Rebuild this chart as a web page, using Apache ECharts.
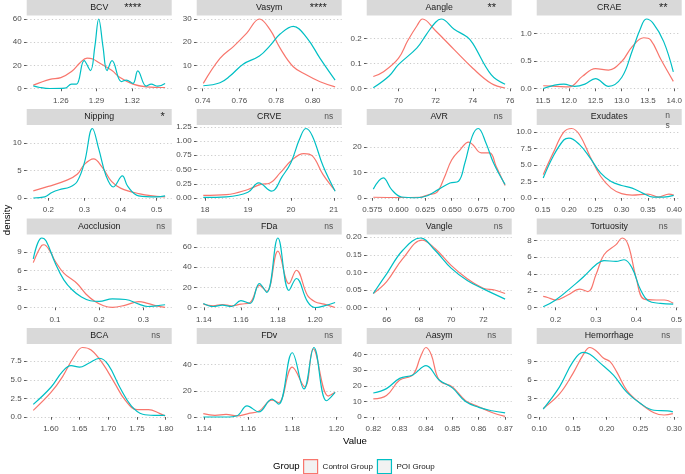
<!DOCTYPE html>
<html>
<head>
<meta charset="utf-8">
<script src="https://cdn.jsdelivr.net/npm/echarts@6/dist/echarts.min.js"></script>
<style>
html, body { margin: 0; padding: 0; background: #fff; }
#main { width: 685px; height: 474px; }
</style>
</head>
<body>
<div id="main"></div>
<script>
// density curves, [value, density]
const bcvControl = [[1.2368,2.9],[1.2508,7.9],[1.26,9.4],[1.269,14.6],[1.276,22],[1.2821,26.3],[1.2869,25.5],[1.2919,22.5],[1.3031,15.5],[1.3095,9.7],[1.3207,3.8],[1.3319,1.5],[1.3478,0.9]]
const bcvPOI = [[1.2368,2.3],[1.2424,0.9],[1.2508,0],[1.2634,0.3],[1.269,3.8],[1.2732,3.8],[1.2796,24],[1.2849,15.5],[1.2886,36],[1.2919,60],[1.2955,36],[1.2989,15.5],[1.3031,24],[1.3109,5.9],[1.3151,7.3],[1.3207,4.4],[1.3248,15.2],[1.3319,2],[1.3361,3.8],[1.3416,2],[1.3478,4.4]]
const vasymControl = [[0.7403,2.2],[0.7494,13],[0.7567,18.1],[0.764,23.9],[0.7709,30],[0.7767,25.4],[0.7822,17.4],[0.7894,9.4],[0.7967,5.8],[0.804,2.9],[0.8122,0.7]]
const vasymPOI = [[0.7403,1.2],[0.7494,2.5],[0.755,5.5],[0.762,10.5],[0.7709,14],[0.7767,18.5],[0.7822,23.5],[0.7894,26.8],[0.7967,22],[0.804,13],[0.8122,3.6]]
const aangleControl = [[68.65,0.048],[69.2,0.067],[70,0.12],[70.5,0.19],[71,0.25],[71.3,0.277],[72,0.23],[73,0.155],[74,0.081],[75,0.02],[75.74,0.002]]
const aanglePOI = [[68.65,0.003],[69.5,0.05],[70,0.095],[71,0.162],[71.5,0.215],[72,0.264],[72.3,0.277],[73,0.236],[73.7,0.205],[74,0.18],[75,0.054],[75.74,0.017]]
const craeControl = [[11.506,0.05],[11.75,0.04],[12.0,0.03],[12.25,0.22],[12.5,0.36],[12.75,0.335],[13.0,0.49],[13.2,0.76],[13.42,0.92],[13.55,0.88],[13.75,0.52],[13.983,0.13]]
const craePOI = [[11.506,0.0],[11.9,0.08],[12.1,0.04],[12.3,0.08],[12.5,0.18],[12.75,0.04],[13.0,0.2],[13.2,0.68],[13.35,1.07],[13.47,1.26],[13.6,1.18],[13.8,0.85],[13.983,0.3]]
const nippingControl = [[0.1584,1.3],[0.2,2.1],[0.25,3.2],[0.28,4.3],[0.3,6.1],[0.325,7.1],[0.35,5.5],[0.375,3.0],[0.4,1.8],[0.45,0.8],[0.5,0.3],[0.5234,0.2]]
const nippingPOI = [[0.1584,0],[0.19,0.2],[0.21,1.0],[0.23,1.5],[0.26,2.0],[0.28,3.0],[0.3,6.4],[0.322,12.6],[0.34,8.8],[0.36,4.0],[0.38,2.0],[0.405,4.0],[0.42,2.1],[0.45,0.4],[0.5,0.2],[0.5234,0.4]]
const crveControl = [[17.96,0.047],[18.5,0.06],[19.0,0.15],[19.3,0.24],[19.5,0.26],[19.75,0.44],[20.0,0.65],[20.3,0.78],[20.5,0.74],[20.75,0.41],[21.03,0.13]]
const crvePOI = [[17.96,0.01],[18.5,0.02],[19.0,0.1],[19.25,0.265],[19.55,0.12],[19.8,0.38],[20.0,0.62],[20.2,1.03],[20.35,1.22],[20.5,1.09],[20.75,0.56],[21.03,0.12]]
const avrControl = [[0.576,0.3],[0.6,0.2],[0.62,0.3],[0.628,1.3],[0.636,2.2],[0.643,8],[0.65,15],[0.658,19],[0.666,22],[0.67,21],[0.678,17.8],[0.686,17.8],[0.692,12.5],[0.7005,4.9]]
const avrPOI = [[0.576,3.5],[0.5854,7.9],[0.5933,3.3],[0.6027,0.4],[0.6169,0.1],[0.627,0.9],[0.6373,3.3],[0.6484,5.9],[0.6565,6.6],[0.6625,13.8],[0.6694,24.3],[0.6751,27.4],[0.6824,21.7],[0.6896,13.8],[0.7005,5.3]]
const exudatesControl = [[0.151,3.55],[0.17,6.85],[0.19,10.0],[0.205,10.55],[0.22,9.6],[0.24,6.3],[0.26,3.3],[0.28,1.5],[0.30,0.66],[0.32,0.45],[0.35,0.6],[0.37,0.15],[0.39,0.6],[0.399,0.45]]
const exudatesPOI = [[0.151,3.05],[0.17,6.35],[0.19,8.8],[0.20,9.1],[0.22,8.1],[0.24,6.1],[0.26,3.8],[0.28,2.5],[0.30,1.9],[0.32,1.5],[0.34,0.75],[0.36,0.15],[0.38,0.15],[0.399,0.4]]
const aocclusionControl = [[0.0509,7.3],[0.07,10.1],[0.075,10.2],[0.09,9.0],[0.1,7.6],[0.12,5.6],[0.15,3.9],[0.17,2.2],[0.19,1.0],[0.21,0.28],[0.23,0.02],[0.26,0.4],[0.29,0.95],[0.31,0.67],[0.33,0.28],[0.3494,0.02]]
const aocclusionPOI = [[0.0509,7.9],[0.07,11.3],[0.08,10.8],[0.1,7.3],[0.12,4.5],[0.14,2.8],[0.16,1.7],[0.18,1.1],[0.2,1.0],[0.23,1.4],[0.26,1.3],[0.29,0.56],[0.31,0.17],[0.33,0.28],[0.3494,0.45]]
const fdaControl = [[1.1397,3.4],[1.145,1.7],[1.15,3],[1.155,1.7],[1.16,3.4],[1.165,5],[1.17,22],[1.174,16],[1.18,56],[1.186,23.7],[1.19,37],[1.196,11.9],[1.20,5.8],[1.205,3.4],[1.2109,0]]
const fdaPOI = [[1.1397,4],[1.145,1],[1.15,2.4],[1.155,1],[1.16,6.8],[1.165,4],[1.17,23.7],[1.174,15],[1.18,69],[1.186,17],[1.19,28.8],[1.196,5.8],[1.20,0],[1.205,1.7],[1.2109,5]]
const vangleControl = [[65.17,0.04],[66,0.074],[67,0.139],[68.2,0.192],[69,0.168],[70,0.12],[71,0.082],[72,0.055],[72.7,0.05],[73.35,0.04]]
const vanglePOI = [[65.17,0.04],[66,0.096],[67,0.163],[68.1,0.198],[69,0.163],[70,0.112],[71,0.077],[72,0.053],[73.35,0.024]]
const tortuosityControl = [[0.169,1.34],[0.18,1.2],[0.2,0.9],[0.23,1.5],[0.26,2.2],[0.28,1.9],[0.3,3.9],[0.32,6.3],[0.35,7.5],[0.365,8.3],[0.38,7.5],[0.4,3.5],[0.42,1.0],[0.45,0.9],[0.47,0.9],[0.492,0.5]]
const tortuosityPOI = [[0.169,0.1],[0.2,0.9],[0.25,2.85],[0.27,3.7],[0.3,5.1],[0.32,5.6],[0.35,5.5],[0.37,5.7],[0.39,4.7],[0.41,2.2],[0.43,0.8],[0.46,0.5],[0.492,0.4]]
const bcaControl = [[1.5692,0.9],[1.6,3.3],[1.62,5.4],[1.64,8.1],[1.655,9.35],[1.67,9.0],[1.69,7.2],[1.71,4.7],[1.73,2.2],[1.75,1.0],[1.77,1.0],[1.79,0.46],[1.799,0.14]]
const bcaPOI = [[1.5692,1.7],[1.6,4.0],[1.62,6.1],[1.635,6.9],[1.65,6.7],[1.665,7.2],[1.685,7.9],[1.70,7.0],[1.72,4.0],[1.74,1.5],[1.76,0.37],[1.78,0.23],[1.799,0.23]]
const fdvControl = [[1.1397,2.6],[1.145,1.3],[1.15,2],[1.155,0.8],[1.16,2.6],[1.165,4.6],[1.1708,12.9],[1.1738,11],[1.18,38],[1.1857,23],[1.1895,52],[1.1963,16],[1.1994,18.8]]
const fdvPOI = [[1.1397,0],[1.15,0],[1.155,1],[1.1595,8.5],[1.1648,3.9],[1.1708,13.7],[1.1738,9.8],[1.18,49],[1.1853,21.4],[1.1898,53],[1.1955,12.4],[1.1994,18.8]]
const aasymControl = [[0.82,11.6],[0.825,13.8],[0.83,23.7],[0.835,27],[0.838,39],[0.84,44.6],[0.842,40],[0.845,23.7],[0.85,19.3],[0.855,10.5],[0.86,6.6],[0.865,2.9],[0.87,0.4]]
const aasymPOI = [[0.82,15.4],[0.825,18.2],[0.83,24.8],[0.835,27],[0.84,33],[0.845,23.7],[0.85,18.7],[0.855,9.9],[0.86,6.2],[0.865,4],[0.87,2.6]]
const hemorrhageControl = [[0.1058,1.4],[0.13,3.75],[0.15,7.1],[0.165,10.1],[0.175,11.3],[0.185,10.7],[0.195,9.6],[0.205,9.0],[0.215,7.3],[0.23,4.3],[0.25,2.2],[0.27,0.7],[0.285,0.33],[0.298,0.55]]
const hemorrhagePOI = [[0.1058,1.3],[0.13,4.9],[0.15,9.0],[0.165,10.5],[0.175,10.2],[0.19,8.8],[0.21,6.8],[0.23,4.0],[0.25,2.2],[0.27,1.1],[0.29,1.0],[0.298,0.83]]

// tick labels
const bcvX = ['1.26','1.29','1.32'], bcvY = ['0','20','40','60']
const vasymX = ['0.74','0.76','0.78','0.80'], vasymY = ['0','10','20','30']
const aangleX = ['70','72','74','76'], aangleY = ['0.0','0.1','0.2']
const craeX = ['11.5','12.0','12.5','13.0','13.5','14.0'], craeY = ['0.0','0.5','1.0']
const nippingX = ['0.2','0.3','0.4','0.5'], nippingY = ['0','5','10']
const crveX = ['18','19','20','21'], crveY = ['0.00','0.25','0.50','0.75','1.00','1.25']
const avrX = ['0.575','0.600','0.625','0.650','0.675','0.700'], avrY = ['0','10','20']
const exudatesX = ['0.15','0.20','0.25','0.30','0.35','0.40'], exudatesY = ['0.0','2.5','5.0','7.5','10.0']
const aocclusionX = ['0.1','0.2','0.3'], aocclusionY = ['0','3','6','9']
const fdaX = ['1.14','1.16','1.18','1.20'], fdaY = ['0','20','40','60']
const vangleX = ['66','68','70','72'], vangleY = ['0.00','0.05','0.10','0.15','0.20']
const tortuosityX = ['0.2','0.3','0.4','0.5'], tortuosityY = ['0','2','4','6','8']
const bcaX = ['1.60','1.65','1.70','1.75','1.80'], bcaY = ['0.0','2.5','5.0','7.5']
const fdvX = ['1.14','1.16','1.18','1.20'], fdvY = ['0','20','40']
const aasymX = ['0.82','0.83','0.84','0.85','0.86','0.87'], aasymY = ['0','10','20','30','40']
const hemorrhageX = ['0.10','0.15','0.20','0.25','0.30'], hemorrhageY = ['0','3','6','9']

const panelNames = ['BCV','Vasym','Aangle','CRAE','Nipping','CRVE','AVR','Exudates','Aocclusion','FDa','Vangle','Tortuosity','BCA','FDv','Aasym','Hemorrhage']
const sigLabels = ['****','****','**','**','*','ns','ns','n\ns','ns','ns','ns','ns','ns','ns','ns','ns']

const panels = [
  [bcvControl, bcvPOI, bcvX, bcvY],
  [vasymControl, vasymPOI, vasymX, vasymY],
  [aangleControl, aanglePOI, aangleX, aangleY],
  [craeControl, craePOI, craeX, craeY],
  [nippingControl, nippingPOI, nippingX, nippingY],
  [crveControl, crvePOI, crveX, crveY],
  [avrControl, avrPOI, avrX, avrY],
  [exudatesControl, exudatesPOI, exudatesX, exudatesY],
  [aocclusionControl, aocclusionPOI, aocclusionX, aocclusionY],
  [fdaControl, fdaPOI, fdaX, fdaY],
  [vangleControl, vanglePOI, vangleX, vangleY],
  [tortuosityControl, tortuosityPOI, tortuosityX, tortuosityY],
  [bcaControl, bcaPOI, bcaX, bcaY],
  [fdvControl, fdvPOI, fdvX, fdvY],
  [aasymControl, aasymPOI, aasymX, aasymY],
  [hemorrhageControl, hemorrhagePOI, hemorrhageX, hemorrhageY]
]

const RED = '#F8766D'
const TEAL = '#00BFC4'
const FONT = '"Liberation Sans", Arial, sans-serif'

// layout
const colLeft = [26.7, 196.7, 366.7, 536.7]
const rowTop = [15.5, 125, 234.5, 344]
const panelW = 145
const panelH = 76.5
const stripH = 16
const sigOffset = [106, 121.5, 125, 126.5, 136, 132, 131.5, 131, 134, 132, 131.5, 126.5, 129, 132, 125, 129]

function labelFor(ticks) {
  return function (v) {
    const t = ticks.find(s => Math.abs(Number(s) - v) < 1e-9)
    return t === undefined ? '' : t
  }
}

const grids = [], xAxes = [], yAxes = [], series = [], graphics = []

panels.forEach((p, i) => {
  const [ctrl, poi, xt, yt] = p
  const c = i % 4, r = Math.floor(i / 4)
  const left = colLeft[c], top = rowTop[r]
  const all = ctrl.concat(poi)
  const xmin = Math.min(...all.map(d => d[0]))
  const xmax = Math.max(...all.map(d => d[0]))
  const ymax = Math.max(...all.map(d => d[1]))
  const xpad = (xmax - xmin) * 0.05
  const xVals = xt.map(Number), yVals = yt.map(Number)

  grids.push({ left: left, top: top, width: panelW, height: panelH })
  xAxes.push({
    type: 'value', gridIndex: i, min: xmin - xpad, max: xmax + xpad,
    axisLine: { show: false },
    axisTick: { show: true, length: 2.7, customValues: xVals, lineStyle: { color: '#333', width: 0.8 } },
    axisLabel: { customValues: xVals, formatter: labelFor(xt), fontSize: 8, color: '#4d4d4d', fontFamily: FONT, margin: 4.5 },
    splitLine: { show: false }
  })
  yAxes.push({
    type: 'value', gridIndex: i, min: -0.05 * ymax, max: 1.05 * ymax,
    axisLine: { show: false },
    axisTick: { show: true, length: 2.7, customValues: yVals, lineStyle: { color: '#333', width: 0.8 } },
    axisLabel: { customValues: yVals, formatter: labelFor(yt), fontSize: 8, color: '#4d4d4d', fontFamily: FONT, margin: 5 },
    splitLine: { show: true, lineStyle: { color: '#bdbdbd', width: 0.8, type: [1.2, 2.4] } }
  })
  series.push({
    name: 'Control Group', type: 'line', xAxisIndex: i, yAxisIndex: i, data: ctrl,
    smooth: 0.4, showSymbol: false, symbol: 'none',
    lineStyle: { color: RED, width: 1.2 }, itemStyle: { color: RED }
  })
  series.push({
    name: 'POI Group', type: 'line', xAxisIndex: i, yAxisIndex: i, data: poi,
    smooth: 0.4, showSymbol: false, symbol: 'none',
    lineStyle: { color: TEAL, width: 1.2 }, itemStyle: { color: TEAL }
  })

  // strip
  graphics.push({ type: 'rect', shape: { x: left, y: top - stripH, width: panelW, height: stripH }, style: { fill: '#d9d9d9' }, silent: true })
  graphics.push({ type: 'text', x: left + panelW / 2, y: top - stripH / 2,
    style: { text: panelNames[i], fill: '#1a1a1a', font: '8.8px ' + FONT, textAlign: 'center', textVerticalAlign: 'middle', align: 'center', verticalAlign: 'middle' } })
  const sig = sigLabels[i]
  const isStar = sig.indexOf('*') >= 0
  graphics.push({ type: 'text', x: left + sigOffset[i], y: top - stripH / 2 + (sig.indexOf('\n') >= 0 ? 4 : 0),
    style: { text: sig, fill: isStar ? '#1a1a1a' : '#555', font: (isStar ? '11px ' : '8.5px ') + FONT, lineHeight: 10,
      textAlign: 'center', textVerticalAlign: 'middle', align: 'center', verticalAlign: 'middle' } })
})

graphics.push({ type: 'text', x: 355, y: 441,
  style: { text: 'Value', fill: '#000', font: '9.6px ' + FONT, textAlign: 'center', textVerticalAlign: 'middle', align: 'center', verticalAlign: 'middle' } })
graphics.push({ type: 'text', x: 7, y: 220, rotation: Math.PI / 2,
  style: { text: 'density', fill: '#000', font: '9.6px ' + FONT, textAlign: 'center', textVerticalAlign: 'middle', align: 'center', verticalAlign: 'middle' } })
graphics.push({ type: 'text', x: 273, y: 466,
  style: { text: 'Group', fill: '#000', font: '9.6px ' + FONT, textAlign: 'left', textVerticalAlign: 'middle', align: 'left', verticalAlign: 'middle' } })

const chart = echarts.init(document.getElementById('main'), null, { renderer: 'canvas' })
chart.setOption({
  animation: false,
  backgroundColor: '#fff',
  grid: grids,
  xAxis: xAxes,
  yAxis: yAxes,
  series: series,
  legend: {
    left: 303, top: 459, padding: 0, itemWidth: 14, itemHeight: 14, itemGap: 4, selectedMode: false,
    textStyle: { fontSize: 8, color: '#1a1a1a', fontFamily: FONT },
    data: [
      { name: 'Control Group', icon: 'rect', itemStyle: { color: '#f2f2f2', borderColor: RED, borderWidth: 1.2 } },
      { name: 'POI Group', icon: 'rect', itemStyle: { color: '#f2f2f2', borderColor: TEAL, borderWidth: 1.2 } }
    ]
  },
  graphic: graphics
})
</script>
</body>
</html>
